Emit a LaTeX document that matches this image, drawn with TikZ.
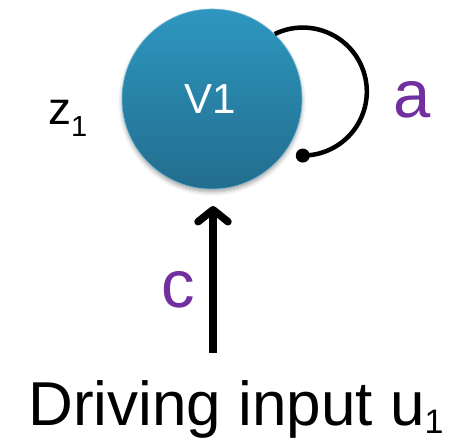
\documentclass[tikz,border=0pt]{standalone}
\usepackage{fontspec}
\setmainfont{Liberation Sans}
\usetikzlibrary{arrows.meta,shadows.blur}
\definecolor{topblue}{HTML}{2E97BF}
\definecolor{botblue}{HTML}{226D8E}
\definecolor{lblpurple}{HTML}{7030A0}
\begin{document}
\begin{tikzpicture}[x=1pt,y=1pt,
  statenode/.style={circle, minimum size=180pt, inner sep=0pt, top color=topblue, bottom color=botblue, draw=topblue!70!white, line width=0.6pt,
    blur shadow={shadow xshift=0pt, shadow yshift=-3pt, shadow blur radius=4pt, shadow opacity=35}},
  loopline/.style={line width=4.5pt, black},
  inarrow/.style={line width=7.5pt, black, -{Straight Barb[length=12pt, width=30pt, round]}},
  coef/.style={text=lblpurple, font=\fontsize{67}{67}\selectfont, inner sep=0pt, anchor=base},
  plain/.style={inner sep=0pt, anchor=base}]
\useasboundingbox (0,0) rectangle (454,442);
\node[statenode] (v1) at (212,343) {};
\node[plain, text=white, font=\fontsize{42}{42}\selectfont] (v1lbl) at (210,328) {V1};
\node[plain, anchor=base west, font=\fontsize{46}{46}\selectfont] (z1) at (48,317) {z\raisebox{-12pt}{\fontsize{29}{29}\selectfont 1}};
% self loop
\draw[loopline] (v1.46) arc[start angle=116, end angle=-90, radius=64pt] coordinate (loopend);
\fill (loopend) circle[radius=7pt];
\node[coef] (a) at (412,324) {a};
% driving input
\node[plain, anchor=base, font=\fontsize{62}{62}\selectfont] (drv) at (236,17) {Driving input u\raisebox{-8pt}{\fontsize{34}{34}\selectfont 1}};
\coordinate (arrbot) at (213,89);
\coordinate (arrtop) at (213,236);
\draw[inarrow] (arrbot) -- (arrtop);
\node[coef] (c) at (178,135) {c};
\end{tikzpicture}
\end{document}
